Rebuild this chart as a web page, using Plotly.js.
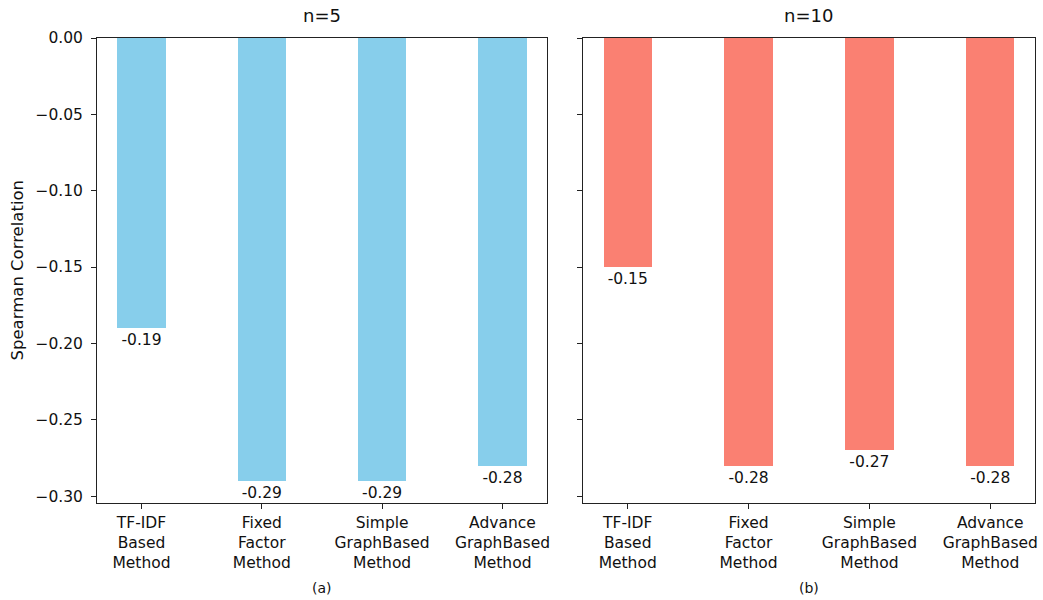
<!DOCTYPE html>
<html>
<head>
<meta charset="utf-8">
<script src="https://cdn.plot.ly/plotly-3.0.1.min.js"></script>
<style>html,body{margin:0;padding:0;background:#fff;}#chart{width:1043px;height:600px;}</style>
</head>
<body>
<div id="chart"></div>
<script>
const categories = ["TF-IDF<br>Based<br>Method", "Fixed<br>Factor<br>Method", "Simple<br>GraphBased<br>Method", "Advance<br>GraphBased<br>Method"];
const valuesN5 = [-0.19, -0.29, -0.29, -0.28];
const valuesN10 = [-0.15, -0.28, -0.27, -0.28];
const panelTitles = ["n=5", "n=10"];
const panelLabels = ["(a)", "(b)"];
const yTicks = [0.00, -0.05, -0.10, -0.15, -0.20, -0.25, -0.30];
const yTitle = "Spearman Correlation";

const FAM = "DejaVu Sans, sans-serif";
const font = {family: FAM, size: 15.5, color: "#111"};

function barTrace(vals, color, xa, ya) {
  return {
    type: "bar", x: categories, y: vals, width: 0.4,
    marker: {color: color, line: {width: 0}},
    text: vals.map(v => v.toFixed(2)), textposition: "outside",
    textfont: {family: FAM, size: 15.5, color: "#111"},
    cliponaxis: false, xaxis: xa, yaxis: ya, hoverinfo: "none", showlegend: false
  };
}

const axisCommon = {
  showline: true, linecolor: "#222", linewidth: 1, mirror: true,
  ticks: "outside", ticklen: 5, tickcolor: "#222", tickwidth: 1,
  showgrid: false, zeroline: false, tickfont: font
};

const yRange = [-0.3045, 0];
const layout = {
  width: 1043, height: 600,
  margin: {l: 97, r: 8, t: 38, b: 97},
  paper_bgcolor: "#fff", plot_bgcolor: "#fff",
  font: font, bargap: 0,
  xaxis: Object.assign({}, axisCommon, {domain: [0, 0.4797], range: [-0.37, 3.37], type: "category", anchor: "y"}),
  yaxis: Object.assign({}, axisCommon, {range: yRange, tickvals: yTicks, tickformat: ".2f", anchor: "x", ticklabelstandoff: 5}),
  xaxis2: Object.assign({}, axisCommon, {domain: [0.5181, 1], range: [-0.37, 3.37], type: "category", anchor: "y2"}),
  yaxis2: Object.assign({}, axisCommon, {range: yRange, tickvals: yTicks, showticklabels: false, anchor: "x2"}),
  annotations: [
    {text: panelTitles[0], xref: "x domain", yref: "paper", x: 0.5, y: 1, yanchor: "middle", yshift: 23, showarrow: false, font: {family: FAM, size: 18, color: "#111"}},
    {text: panelTitles[1], xref: "x2 domain", yref: "paper", x: 0.5, y: 1, yanchor: "middle", yshift: 23, showarrow: false, font: {family: FAM, size: 18, color: "#111"}},
    {text: panelLabels[0], xref: "x domain", yref: "paper", x: 0.5, y: 0, yanchor: "middle", yshift: -85, showarrow: false, font: {family: FAM, size: 14, color: "#111"}},
    {text: panelLabels[1], xref: "x2 domain", yref: "paper", x: 0.5, y: 0, yanchor: "middle", yshift: -85, showarrow: false, font: {family: FAM, size: 14, color: "#111"}},
    {text: yTitle, xref: "paper", yref: "paper", x: 0, y: 0.5, xanchor: "center", yanchor: "middle", xshift: -80, textangle: -90, showarrow: false, font: {family: FAM, size: 16.5, color: "#111"}}
  ]
};

Plotly.newPlot("chart", [barTrace(valuesN5, "#87CEEB", "x", "y"), barTrace(valuesN10, "#FA8072", "x2", "y2")], layout, {staticPlot: true, displayModeBar: false});
</script>
</body>
</html>
